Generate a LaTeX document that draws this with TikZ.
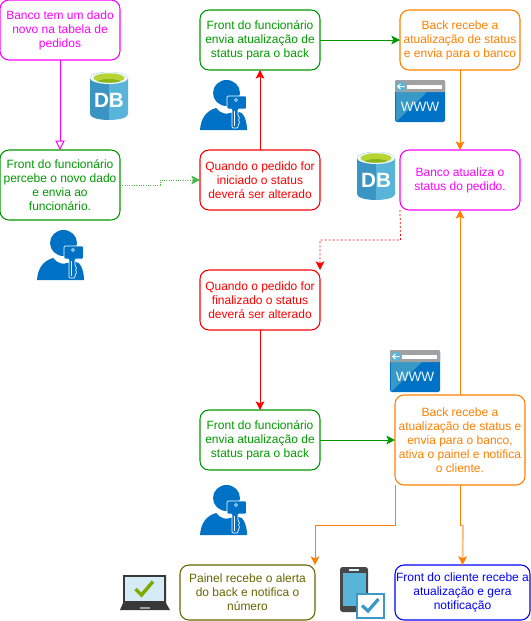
\documentclass[tikz,border=0pt]{standalone}
\usepackage{fontspec}
\setmainfont{Liberation Sans}
\usetikzlibrary{arrows.meta}
\definecolor{cMag}{HTML}{FF00FF}
\definecolor{cGreen}{HTML}{009900}
\definecolor{cRed}{HTML}{FF0000}
\definecolor{cOrange}{HTML}{FF8000}
\definecolor{cOlive}{HTML}{666600}
\definecolor{cBlue}{HTML}{0000FF}
\definecolor{azDark}{HTML}{3A94C4}
\definecolor{azLight}{HTML}{59B4D9}
\definecolor{azBlue}{HTML}{0072C6}
\definecolor{azMid}{HTML}{3999C6}
\definecolor{azGray}{HTML}{A0A1A2}
\definecolor{dbLime}{HTML}{B8D432}
\definecolor{dbLimeDark}{HTML}{8CB41E}
\definecolor{checkGreen}{HTML}{7FA800}
\tikzset{
  x=0.75pt,y=-0.75pt,
  flowbox/.style={draw=#1,text=#1,fill=white,line width=0.8pt,rounded corners=6.75pt,align=center,
    font=\fontsize{9}{10.5}\selectfont,inner sep=0pt,outer sep=0pt},
  conn/.style={draw=#1,line width=0.75pt,-{Stealth[length=6.5pt,width=6.5pt,inset=1.5pt]}},
  dbicon/.pic={
    \fill[azDark] (0,6) -- (0,42) .. controls (0,46) and (10,48) .. (19,48) -- (19,0) .. controls (10,0) and (0,2) .. (0,6) -- cycle;
    \fill[azLight] (38,6) -- (38,42) .. controls (38,46) and (28,48) .. (19,48) -- (19,0) .. controls (28,0) and (38,2) .. (38,6) -- cycle;
    \fill[white!90!azLight] (19,6) ellipse [x radius=19,y radius=6];
    \fill[dbLime] (19,6) ellipse [x radius=15.5,y radius=4.7];
    \begin{scope}
      \clip (19,6) ellipse [x radius=15.5,y radius=4.7];
      \fill[dbLimeDark] (19,12) ellipse [x radius=14,y radius=5];
    \end{scope}
    \node[text=white,font=\fontsize{15.5}{15.5}\selectfont\bfseries,inner sep=0pt] (-label) at (19,28) {DB};
  },
  wwwicon/.pic={
    \fill[azBlue,rounded corners=1.5pt] (0,0) rectangle (50,42);
    \fill[azMid] (1,12) -- (32,12) -- (2,41) -- (1,41) -- cycle;
    \fill[azGray,rounded corners=1.5pt] (0,0) rectangle (50,12);
    \fill[azGray] (0,6) rectangle (50,12);
    \fill[white] (12,5) rectangle (47,8.5);
    \fill[azLight] (6,6.5) circle [radius=5];
    \draw[white,line width=0.75pt] (2.5,6.5) -- (9.5,6.5) (5.5,3.8) -- (2.5,6.5) -- (5.5,9.2);
    \node[text=white!90!azLight,font=\fontsize{10.2}{10.2}\selectfont,inner sep=0pt] (-label) at (25,27) {WWW};
  },
  usericon/.pic={
    \fill[azBlue] (26.5,13) ellipse [x radius=13.5,y radius=13];
    \fill[azBlue] (0,50) .. controls (1,38) and (6,31) .. (16,28) .. controls (20,33) and (26,35) .. (30,33) .. controls (34,32) and (42,30) .. (44,36) .. controls (46,40) and (47,45) .. (47,50) -- cycle;
    \draw[white,line width=0.5pt,fill=azBlue,rounded corners=0.8pt] (27,16) -- (46.5,16) -- (46.5,29) -- (38,29) -- (38,36) -- (40,38) -- (38,40) -- (40,42) -- (38,45) -- (38,48) -- (32,48) -- (32,29) -- (27,29) -- cycle;
    \fill[azBlue] (32.7,28) rectangle (37.3,30);
    \draw[white,line width=0.4pt] (36,20) circle [radius=1.6];
    \draw[white,line width=0.4pt] (34.5,31) -- (34.5,46);
  },
  laptopicon/.pic={
    \fill[black!78] (3,0) -- (46,0) -- (46,28) -- (50,35) -- (0,35) -- (3,28) -- cycle;
    \fill[azLight!25!white] (5,2) rectangle (44,26);
    \fill[azGray] (20,31.5) rectangle (30,33.5);
    \draw[checkGreen,line width=2.6pt] (15.5,14) -- (21.5,20) -- (33,6.5);
  },
  phoneicon/.pic={
    \fill[black!72,rounded corners=2pt] (0,0) rectangle (28,45);
    \fill[azLight] (2.5,6) rectangle (25.5,39);
    \fill[white!80!azLight] (9,2.2) rectangle (19,4);
    \fill[white,draw=azMid,line width=2pt] (17,27) rectangle (44,51);
    \draw[azMid,line width=2.4pt] (22,38.5) -- (28,44) -- (38.5,32);
  }
}
\begin{document}
\begin{tikzpicture}
\useasboundingbox (0,0) rectangle (531,621);
\fill[white] (0,0) rectangle (531,621);

% icons
\pic (dbA) at (90,72) {dbicon};
\pic (dbB) at (357,152) {dbicon};
\pic (wwwA) at (395,80) {wwwicon};
\pic (wwwB) at (390,350) {wwwicon};
\pic (userA) at (37,230) {usericon};
\pic (userB) at (200,80) {usericon};
\pic (userC) at (200,485) {usericon};
\pic (laptop) at (120,575) {laptopicon};
\pic (phone) at (340,567) {phoneicon};

% boxes
\node[flowbox=cMag,minimum width=90pt,minimum height=45pt] (a) at (60,30) {Banco tem um dado\\novo na tabela de\\pedidos};
\node[flowbox=cGreen,minimum width=90pt,minimum height=52.5pt] (b) at (60,185) {Front do funcionário\\percebe o novo dado\\e envia ao\\funcionário.};
\node[flowbox=cRed,minimum width=90pt,minimum height=45pt] (c) at (260,180) {Quando o pedido for\\iniciado o status\\deverá ser alterado};
\node[flowbox=cGreen,minimum width=90pt,minimum height=45pt] (d) at (260,40) {Front do funcionário\\envia atualização de\\status para o back};
\node[flowbox=cOrange,minimum width=90pt,minimum height=45pt] (e) at (460,40) {Back recebe a\\atualização de status\\e envia para o banco};
\node[flowbox=cMag,minimum width=90pt,minimum height=45pt] (f) at (460,180) {Banco atualiza o\\status do pedido.};
\node[flowbox=cRed,minimum width=90pt,minimum height=45pt] (g) at (260,300) {Quando o pedido for\\finalizado o status\\deverá ser alterado};
\node[flowbox=cGreen,minimum width=90pt,minimum height=45pt] (h) at (260,440) {Front do funcionário\\envia atualização de\\status para o back};
\node[flowbox=cOrange,minimum width=97.5pt,minimum height=67.5pt] (i) at (460,440) {Back recebe a\\atualização de status e\\envia para o banco,\\ativa o painel e notifica\\o cliente.};
\node[flowbox=cOlive,minimum width=101.25pt,minimum height=41.25pt] (j) at (247.5,592.5) {Painel recebe o alerta\\do back e notifica o\\número};
\node[flowbox=cBlue,minimum width=101.25pt,minimum height=41.25pt] (k) at (462.5,592.5) {Front do cliente recebe a\\atualização e gera\\notificação};

% waypoints
\coordinate (kTop) at (k.north);

% connectors
\draw[draw=cMag,line width=0.75pt,-{Triangle[open,fill=white,length=7pt,width=7pt]}] (a) -- (b);
\draw[conn=cGreen!70,densely dotted,line width=0.45pt] (b.east) -- (160,185) -- (160,180) -- (c.west);
\draw[conn=cRed] (c) -- (d);
\draw[conn=cGreen] (d) -- (e);
\draw[conn=cOrange] (e) -- (f);
\draw[conn=cOrange] (i.north) -- (f.south);
\draw[conn=cRed,dash pattern=on 1.5pt off 1.5pt,line width=0.55pt] (f.south west) -- (400.5,240) -- (320,240) -- (g.north east);
\draw[conn=cRed] (g) -- (h);
\draw[conn=cGreen] (h) -- (i);
\draw[conn=cOrange] (i.south west) -- (395,525) -- (315,525) -- (j.north east);
\draw[cOrange,line width=0.75pt] (i.south) -- (460,525) -- (463,525);
\draw[draw=cOrange!50,line width=1.4pt,-{Stealth[length=6.5pt,width=6.5pt,inset=1.5pt,color=cOrange]}] (463,525) -- (kTop);
\end{tikzpicture}
\end{document}
